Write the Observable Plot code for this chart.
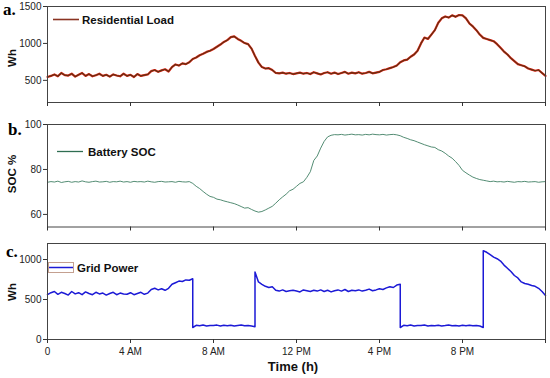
<!DOCTYPE html>
<html>
<head>
<meta charset="utf-8">
<script src="https://cdn.jsdelivr.net/npm/d3@7"></script>
<script src="https://cdn.jsdelivr.net/npm/@observablehq/plot@0.6"></script>
<style>
  html, body { margin: 0; padding: 0; background: #fff; }
  #wrap { position: relative; width: 550px; height: 378px; overflow: hidden; background: #fff; }
  #wrap svg { position: absolute; left: 0; top: 0; }
  .lbl { font-family: "Liberation Sans", Arial, sans-serif; font-weight: bold; fill: #111; }
  .pl { font-family: "Liberation Serif", "Times New Roman", serif; font-weight: bold; font-size: 17px; fill: #000; }
</style>
</head>
<body>
<div id="wrap"></div>
<script>
// ---- Data (10-minute samples, hour = index / 6) ----
const tickHours = [0, 4, 8, 12, 16, 20, 24];
const tickLabels = ["0", "4 AM", "8 AM", "12 PM", "4 PM", "8 PM", ""];

const loadValues = [
  545, 560, 580, 555, 600, 570,
  565, 590, 550, 575, 600, 560,
  585, 555, 570, 590, 560, 575,
  550, 580, 565, 555, 590, 560,
  575, 545, 585, 560, 570, 580,
  625, 640, 615, 635, 650, 620,
  680, 715, 700, 730, 720, 745,
  790, 810, 840, 860, 885, 900,
  925, 955, 985, 1020, 1045, 1085,
  1095, 1060, 1035, 1005, 990, 930,
  830, 740, 680, 660, 665, 640,
  600, 595, 605, 590, 600, 585,
  595, 605, 590, 600, 585, 610,
  595, 580, 600, 610, 590, 605,
  585, 600, 615, 590, 605, 595,
  610, 590, 600, 615, 595, 605,
  615, 640, 650, 665, 680, 700,
  745, 770, 780, 820, 850, 900,
  1000, 1080, 1060, 1120, 1180, 1280,
  1340, 1365, 1350, 1380, 1360, 1385,
  1380, 1340, 1270, 1230, 1180, 1120,
  1075, 1060, 1045, 1030, 990, 940,
  890, 850, 800, 760, 720, 705,
  690, 660, 645, 630, 640, 600,
  560
];

const socValues = [
  74.3, 74.6, 74.4, 74.8, 74.2, 74.5,
  74.7, 74.3, 74.6, 74.4, 74.9, 74.5,
  74.3, 74.6, 74.8, 74.4, 74.5, 74.7,
  74.3, 74.6, 74.5, 74.8, 74.4, 74.6,
  74.3, 74.7, 74.5, 74.6, 74.4, 74.8,
  74.5, 74.3, 74.6, 74.7, 74.4, 74.5,
  74.6, 74.3, 74.7, 74.5, 74.4, 74.6,
  73.8, 72.5, 71.5, 70.2, 69.0, 68.0,
  67.6, 66.8, 66.5, 66.0, 65.6, 65.2,
  64.8, 64.2, 63.5, 62.8, 63.0, 62.2,
  61.5, 61.0, 61.3, 62.0, 62.8, 63.6,
  65.0, 66.5, 67.8, 69.0, 70.5, 71.2,
  72.5, 73.8, 74.5, 76.5, 79.0, 84.0,
  86.0, 89.5, 92.5, 94.5, 95.2, 95.5,
  95.4, 95.6, 95.3, 95.5, 95.7, 95.4,
  95.5, 95.3, 95.6, 95.4, 95.7, 95.5,
  95.4, 95.6, 95.3, 95.5, 95.6, 95.4,
  95.0, 94.3, 93.8, 93.2, 92.8, 92.2,
  91.6, 91.0, 90.5, 90.0, 89.8, 88.8,
  88.2, 87.2, 86.0, 85.0, 83.5, 81.8,
  79.6, 78.5, 77.5, 76.6, 76.0, 75.5,
  75.2, 74.9, 74.6, 74.8, 74.5, 74.6,
  74.4, 74.7, 74.5, 74.3, 74.6, 74.5,
  74.7, 74.4, 74.5, 74.6, 74.3, 74.5,
  74.6
];

// Grid power: segments between switching instants (start hour, 10-minute samples)
const gridSeg1Start = 0;
const gridSeg1 = [
  560, 585, 600, 565, 590, 575,
  555, 600, 570, 585, 560, 595,
  575, 560, 590, 570, 580, 555,
  575, 590, 560, 580, 570, 565,
  585, 560, 575, 590, 565, 580,
  625, 640, 620, 635, 615, 640,
  690, 710, 730, 725, 745, 740,
  760
];
const gridSeg2Start = 7;
const gridSeg2 = [
  150, 178, 172, 180, 170, 176,
  174, 180, 168, 177, 173, 179,
  170, 176, 182, 171, 175, 168,
  160
];
const gridSeg3Start = 10;
const gridSeg3 = [
  845, 720, 690, 665, 650, 660,
  615, 605, 620, 600, 610, 615,
  605, 595, 620, 610, 600, 615,
  605, 620, 600, 615, 595, 610,
  620, 605, 625, 600, 615, 610,
  620, 605, 615, 630, 610, 620,
  635, 625, 645, 660, 650, 680,
  690
];
const gridSeg4Start = 17;
const gridSeg4 = [
  150, 178, 172, 180, 170, 176,
  174, 180, 170, 176, 172, 178,
  170, 175, 181, 172, 176, 170,
  177, 173, 179, 171, 175, 168,
  150
];
const gridSeg5Start = 21;
const gridSeg5 = [
  1110, 1090, 1060, 1030, 1010, 980,
  930, 890, 850, 800, 770, 720,
  700, 690, 675, 665, 640, 600,
  550
];

// ---- Build tables ----
const load = loadValues.map((v, i) => ({h: i / 6, v}));
const soc = socValues.map((v, i) => ({h: i / 6, v}));
const grid = [];
[[gridSeg1Start, gridSeg1], [gridSeg2Start, gridSeg2], [gridSeg3Start, gridSeg3],
 [gridSeg4Start, gridSeg4], [gridSeg5Start, gridSeg5]].forEach(([s, arr]) => {
  arr.forEach((v, i) => grid.push({h: s + i / 6, v}));
});

const W = 550, H = 378;
const common = {
  width: W, height: H, marginLeft: 47, marginRight: 5,
  style: {background: "transparent", fontFamily: "'Liberation Sans', Arial, sans-serif", fontSize: "10px", color: "#222", overflow: "visible"},
  x: {domain: [0, 24]}
};

function xAxis(withLabels) {
  return Plot.axisX(tickHours, {
    tickSize: 4, tickPadding: 4, stroke: "#333",
    tickFormat: withLabels ? (d) => tickLabels[tickHours.indexOf(d)] : () => "",
    label: null, fontSize: 10
  });
}
function yAxis(ticks) {
  return Plot.axisY(ticks, {tickSize: 4, tickPadding: 2, stroke: "#333", label: null, fontSize: 10, tickFormat: (d) => String(d)});
}

const pA = Plot.plot({
  ...common, marginTop: 6, marginBottom: H - 102,
  y: {domain: [200, 1500]},
  marks: [
    Plot.line(load, {x: "h", y: "v", stroke: "#e4261c", strokeWidth: 2.2}),
    Plot.line(load, {x: "h", y: "v", stroke: "#62300f", strokeWidth: 1.2}),
    Plot.frame({stroke: "#444", strokeWidth: 1}),
    xAxis(false),
    yAxis([500, 1000, 1500])
  ]
});

const pB = Plot.plot({
  ...common, marginTop: 124, marginBottom: H - 226.5,
  y: {domain: [54.4, 100]},
  marks: [
    Plot.line(soc, {x: "h", y: "v", stroke: "#3f7f63", strokeWidth: 0.9}),
    Plot.frame({stroke: "#444", strokeWidth: 1}),
    xAxis(false),
    yAxis([60, 80, 100])
  ]
});

const pC = Plot.plot({
  ...common, marginTop: 243, marginBottom: H - 339,
  y: {domain: [0, 1200]},
  marks: [
    Plot.line(grid, {x: "h", y: "v", stroke: "#1c1ad6", strokeWidth: 1.5}),
    Plot.frame({stroke: "#444", strokeWidth: 1}),
    xAxis(true),
    yAxis([0, 500, 1000])
  ]
});

const wrap = document.getElementById("wrap");
wrap.appendChild(pA);
wrap.appendChild(pB);
wrap.appendChild(pC);

// ---- Text overlay: panel letters, axis titles, legends ----
const NS = "http://www.w3.org/2000/svg";
const ov = document.createElementNS(NS, "svg");
ov.setAttribute("width", W);
ov.setAttribute("height", H);
ov.innerHTML = `
  <text class="pl" x="3" y="15">a.</text>
  <text class="pl" x="8" y="135">b.</text>
  <text class="pl" x="6" y="257">c.</text>
  <text class="lbl" font-size="11.5" text-anchor="middle" dominant-baseline="central" transform="translate(12,58) rotate(-90)">Wh</text>
  <text class="lbl" font-size="11.5" text-anchor="middle" dominant-baseline="central" transform="translate(12,174) rotate(-90)">SOC %</text>
  <text class="lbl" font-size="11.5" text-anchor="middle" dominant-baseline="central" transform="translate(12,292) rotate(-90)">Wh</text>
  <line x1="53" x2="79" y1="19.5" y2="19.5" stroke="#8a3322" stroke-width="1.6"/>
  <text class="lbl" font-size="11.5" x="82" y="23.5">Residential Load</text>
  <line x1="57" x2="83" y1="151.5" y2="151.5" stroke="#2f6e52" stroke-width="1.3"/>
  <text class="lbl" font-size="11.5" x="88" y="155.5">Battery SOC</text>
  <rect x="48.5" y="262.5" width="25" height="10" fill="none" stroke="#c4a090" stroke-width="1"/>
  <line x1="49" x2="73" y1="267.5" y2="267.5" stroke="#1c1ad6" stroke-width="1.5"/>
  <text class="lbl" font-size="11.5" x="77" y="271.5">Grid Power</text>
  <text class="lbl" font-size="13" x="293" y="371" text-anchor="middle">Time (h)</text>
`;
wrap.appendChild(ov);
</script>
</body>
</html>
